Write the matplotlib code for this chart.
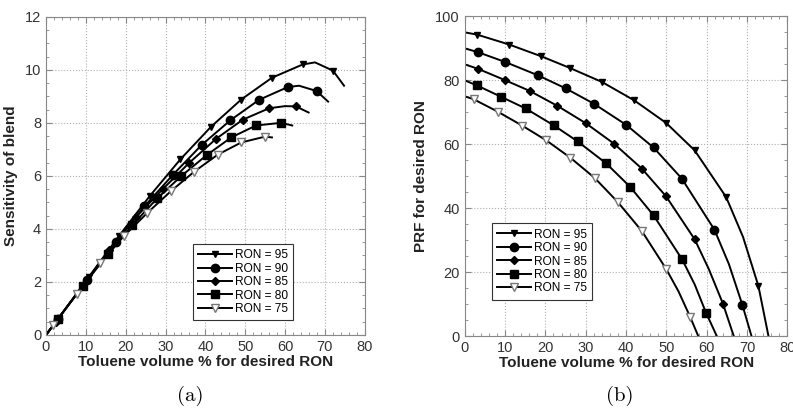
import matplotlib
matplotlib.use("Agg")
import matplotlib.pyplot as plt
from matplotlib.ticker import MultipleLocator

labels = ["RON = 95", "RON = 90", "RON = 85", "RON = 80", "RON = 75"]

# (a) sensitivity of blend vs toluene volume %
sens_x = [
    [0, 3.1, 10.8, 18.4, 26.1, 33.7, 41.4, 49.0, 56.7, 64.4, 67.5, 72.0, 74.8],
    [0, 3.1, 10.3, 17.5, 24.7, 31.9, 39.1, 46.3, 53.5, 60.7, 63.5, 67.9, 70.8],
    [0, 2.5, 9.2, 15.9, 22.6, 29.3, 36.0, 42.7, 49.4, 56.0, 60.0, 62.7, 65.9],
    [0, 3.1, 9.3, 15.5, 21.7, 27.9, 34.0, 40.3, 46.5, 52.7, 59.0, 61.8],
    [0, 1.8, 7.7, 13.6, 19.5, 25.4, 31.4, 37.2, 43.1, 49.0, 55.0, 56.7],
]
sens_y = [
    [0, 0.62, 2.2, 3.75, 5.25, 6.62, 7.85, 8.88, 9.70, 10.2, 10.28, 9.97, 9.4],
    [0, 0.62, 2.08, 3.5, 4.85, 6.05, 7.17, 8.1, 8.87, 9.35, 9.4, 9.2, 8.8],
    [0, 0.5, 1.85, 3.2, 4.45, 5.5, 6.5, 7.4, 8.12, 8.55, 8.63, 8.62, 8.39],
    [0, 0.62, 1.85, 3.05, 4.15, 5.15, 6.0, 6.78, 7.45, 7.9, 8.0, 7.9],
    [0, 0.37, 1.55, 2.7, 3.72, 4.6, 5.43, 6.16, 6.8, 7.26, 7.48, 7.45],
]
sens_marks = [
    [1, 2, 3, 4, 5, 6, 7, 8, 9, 11],
    [1, 2, 3, 4, 5, 6, 7, 8, 9, 11],
    [1, 2, 3, 4, 5, 6, 7, 8, 9, 11],
    [1, 2, 3, 4, 5, 6, 7, 8, 9, 10],
    [1, 2, 3, 4, 5, 6, 7, 8, 9, 10],
]

# (b) PRF for desired RON vs toluene volume %
prf_x = [
    [0, 3.05, 11.0, 19.0, 26.0, 34.0, 42.0, 49.9, 57.0, 64.8, 69.0, 72.8, 75.3],
    [0, 3.3, 10.1, 18.1, 25.0, 32.0, 40.0, 46.8, 53.8, 61.9, 65.5, 68.8, 71.1],
    [0, 3.3, 10.1, 16.1, 23.0, 30.0, 37.0, 43.9, 49.9, 57.0, 60.5, 64.0, 66.7],
    [0, 3.05, 9.1, 15.1, 22.1, 28.0, 35.1, 41.0, 46.8, 53.9, 57.0, 59.8, 62.5],
    [0, 2.2, 8.2, 14.3, 20.2, 26.2, 32.2, 37.9, 43.9, 49.9, 53.0, 55.9, 57.9],
]
prf_y = [
    [95, 94.3, 91.2, 87.5, 83.9, 79.5, 73.75, 66.7, 58.1, 43.5, 31.0, 15.7, 0],
    [90, 88.8, 85.7, 81.6, 77.5, 72.7, 66.1, 59.0, 49.3, 33.3, 22.5, 9.9, 0],
    [85, 83.6, 80.0, 76.7, 72.0, 66.6, 60.2, 52.4, 43.75, 30.3, 21.0, 10.2, 0],
    [80, 78.4, 74.8, 71.2, 65.9, 60.9, 54.0, 46.7, 37.8, 24.0, 16.2, 7.4, 0],
    [75, 74.1, 70.2, 65.8, 61.25, 55.8, 49.5, 42.0, 32.9, 21.1, 14.0, 6.0, 0],
]
prf_marks = [[1, 2, 3, 4, 5, 6, 7, 8, 9, 11]] * 5

markers = ["v", "o", "D", "s", "v"]
msizes = [5, 6, 4, 6, 5.5]
faces = ["black", "black", "black", "black", "white"]
edges = ["black", "black", "black", "black", "#777777"]

sans = ["Liberation Sans", "DejaVu Sans"]

fig = plt.figure(figsize=(7.93, 4.09), dpi=100)
ax1 = fig.add_axes([0.058, 0.181, 0.402, 0.778])
ax2 = fig.add_axes([0.586, 0.178, 0.407, 0.782])


def style(ax, ymax, ymaj, ymin, ylabel):
    ax.set_xlim(0, 80)
    ax.set_ylim(0, ymax)
    ax.xaxis.set_major_locator(MultipleLocator(10))
    ax.xaxis.set_minor_locator(MultipleLocator(2))
    ax.yaxis.set_major_locator(MultipleLocator(ymaj))
    ax.yaxis.set_minor_locator(MultipleLocator(ymin))
    ax.grid(True, which="major", linestyle=":", color="#b0b0b0", linewidth=0.8)
    ax.tick_params(which="both", direction="in", top=True, right=True,
                   colors="#888888", labelcolor="#333333", labelsize=10.5)
    ax.tick_params(which="major", length=4)
    ax.tick_params(which="minor", length=2)
    for s in ax.spines.values():
        s.set_color("#888888")
    for t in ax.get_xticklabels() + ax.get_yticklabels():
        t.set_family(sans)
    ax.set_xlabel("Toluene volume % for desired RON", fontsize=11,
                  fontweight="bold", family=sans, labelpad=1, color="#222222")
    ax.set_ylabel(ylabel, fontsize=11, fontweight="bold", family=sans,
                  labelpad=5, color="#222222")


for i in range(5):
    ax1.plot(sens_x[i], sens_y[i], color="black", lw=1.4, marker=markers[i],
             markevery=sens_marks[i], ms=msizes[i], mfc=faces[i],
             mec=edges[i], label=labels[i])
    ax2.plot(prf_x[i], prf_y[i], color="black", lw=1.4, marker=markers[i],
             markevery=prf_marks[i], ms=msizes[i], mfc=faces[i],
             mec=edges[i], label=labels[i])

style(ax1, 12, 2, 0.5, "Sensitivity of blend")
style(ax2, 100, 20, 5, "PRF for desired RON")

for ax, loc in [(ax1, (0.461, 0.286)), (ax2, (0.084, 0.353))]:
    leg = ax.legend(loc="upper left", bbox_to_anchor=loc, borderaxespad=0,
                    fancybox=False, edgecolor="#333333", framealpha=1,
                    handlelength=2.8, handletextpad=0.25, labelspacing=0.12,
                    borderpad=0.45, prop={"family": sans, "size": 8.6})
    leg.get_frame().set_linewidth(0.8)
    for h in leg.get_lines():
        h.set_markevery([1])

fig.text(0.24, 0.032, "(a)", ha="center", va="center", fontsize=15,
         family="cmr10")
fig.text(0.782, 0.032, "(b)", ha="center", va="center", fontsize=15,
         family="cmr10")

fig.savefig("out.png", dpi=100)
